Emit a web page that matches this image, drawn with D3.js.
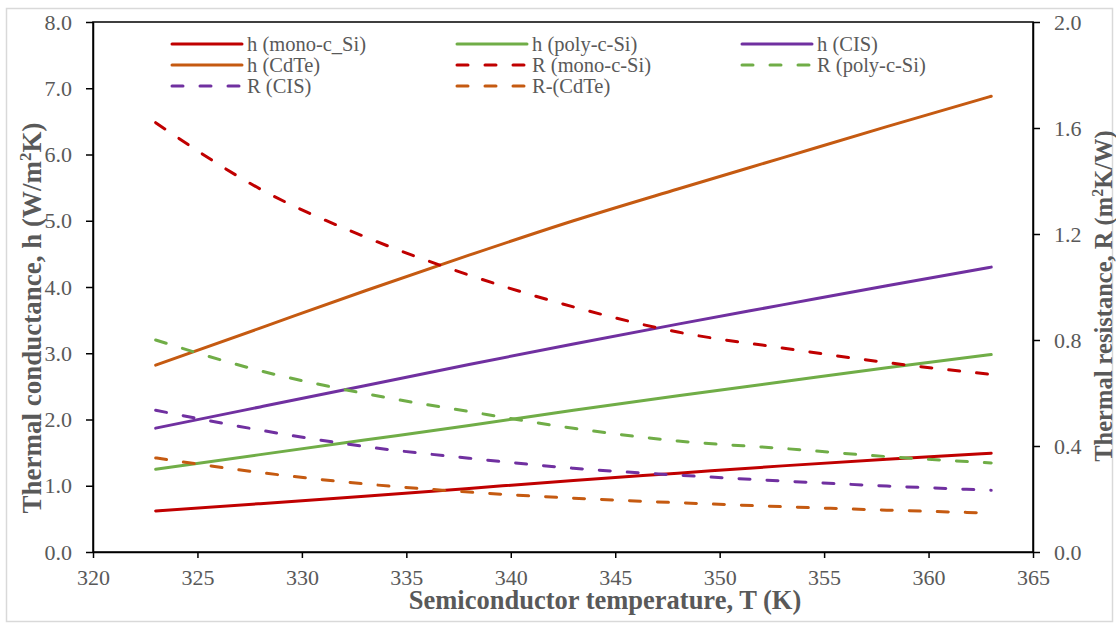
<!DOCTYPE html>
<html>
<head>
<meta charset="utf-8">
<script src="https://cdn.jsdelivr.net/npm/d3@7"></script>
<style>
  body { margin: 0; background: #fff; }
  text { font-family: "Liberation Serif", "Times New Roman", serif; }
</style>
</head>
<body>
<svg id="chart"></svg>
<script>
const width = 1116, height = 624;

// temperatures (K)
const temps = [323, 328, 333, 338, 343, 348, 353, 358, 363];

// thermal conductance h (W/m2K)
const hMono = [0.62, 0.73, 0.84, 0.96, 1.08, 1.19, 1.30, 1.40, 1.49];
const hPoly = [1.25, 1.47, 1.69, 1.91, 2.14, 2.36, 2.57, 2.78, 2.98];
const hCIS  = [1.87, 2.19, 2.51, 2.83, 3.14, 3.44, 3.73, 4.02, 4.30];
const hCdTe = [2.82, 3.38, 3.94, 4.48, 5.00, 5.48, 5.95, 6.42, 6.88];

// thermal resistance R (m2K/W)
const rMono = [1.62, 1.37, 1.19, 1.045, 0.925, 0.83, 0.77, 0.715, 0.67];
const rPoly = [0.80, 0.684, 0.598, 0.53, 0.467, 0.419, 0.391, 0.36, 0.336];
const rCIS  = [0.535, 0.46, 0.398, 0.354, 0.316, 0.29, 0.268, 0.249, 0.233];
const rCdTe = [0.355, 0.30, 0.257, 0.226, 0.203, 0.186, 0.171, 0.158, 0.147];

const xTicks = [320, 325, 330, 335, 340, 345, 350, 355, 360, 365];
const yLeftTicks = [0, 1, 2, 3, 4, 5, 6, 7, 8];
const yRightTicks = [0, 0.4, 0.8, 1.2, 1.6, 2.0];

const series = [
  {name: "h (mono-c_Si)", vals: hMono, axis: "L", color: "#C00000", dash: false},
  {name: "h (poly-c-Si)", vals: hPoly, axis: "L", color: "#70AD47", dash: false},
  {name: "h (CIS)",       vals: hCIS,  axis: "L", color: "#7030A0", dash: false},
  {name: "h (CdTe)",      vals: hCdTe, axis: "L", color: "#C55A11", dash: false},
  {name: "R (mono-c-Si)", vals: rMono, axis: "R", color: "#C00000", dash: true},
  {name: "R (poly-c-Si)", vals: rPoly, axis: "R", color: "#70AD47", dash: true},
  {name: "R (CIS)",       vals: rCIS,  axis: "R", color: "#7030A0", dash: true},
  {name: "R-(CdTe)",      vals: rCdTe, axis: "R", color: "#C55A11", dash: true}
];

const m = {left: 93, right: 1033, top: 22, bottom: 552};

const svg = d3.select("#chart")
  .attr("width", width)
  .attr("height", height);

// outer frame
svg.append("rect")
  .attr("x", 6.5).attr("y", 8.5)
  .attr("width", 1106).attr("height", 613)
  .attr("fill", "#fff")
  .attr("stroke", "#d9d9d9")
  .attr("stroke-width", 1.5);

const x = d3.scaleLinear().domain([320, 365]).range([m.left, m.right]);
const yL = d3.scaleLinear().domain([0, 8]).range([m.bottom, m.top]);
const yR = d3.scaleLinear().domain([0, 2]).range([m.bottom, m.top]);

// plot border
svg.append("rect")
  .attr("x", m.left).attr("y", m.top)
  .attr("width", m.right - m.left).attr("height", m.bottom - m.top)
  .attr("fill", "none")
  .attr("stroke", "#000")
  .attr("stroke-width", 1.5);

function styleAxis(g) {
  g.attr("font-family", null).attr("font-size", null);
  g.select(".domain").attr("stroke", "#000").attr("stroke-width", 1.5);
  g.selectAll(".tick line").attr("stroke", "#000").attr("stroke-width", 1.5);
  g.selectAll(".tick text")
    .attr("fill", "#595959")
    .attr("font-size", "22px")
    .attr("font-family", "Liberation Serif, serif");
}

svg.append("g")
  .attr("transform", `translate(0,${m.bottom})`)
  .call(d3.axisBottom(x).tickValues(xTicks).tickSize(6).tickSizeOuter(0).tickPadding(11).tickFormat(d3.format("d")))
  .call(styleAxis);

svg.append("g")
  .attr("transform", `translate(${m.left},0)`)
  .call(d3.axisLeft(yL).tickValues(yLeftTicks).tickSize(7).tickSizeOuter(0).tickPadding(14).tickFormat(d3.format(".1f")))
  .call(styleAxis);

svg.append("g")
  .attr("transform", `translate(${m.right},0)`)
  .call(d3.axisRight(yR).tickValues(yRightTicks).tickSize(7).tickSizeOuter(0).tickPadding(14).tickFormat(d3.format(".1f")))
  .call(styleAxis);

// lines
series.forEach(function(s) {
  const yS = s.axis === "L" ? yL : yR;
  const line = d3.line()
    .x((d, i) => x(temps[i]))
    .y(d => yS(d))
    .curve(d3.curveMonotoneX);
  svg.append("path")
    .datum(s.vals)
    .attr("d", line)
    .attr("fill", "none")
    .attr("stroke", s.color)
    .attr("stroke-width", 3)
    .attr("stroke-linecap", "round")
    .attr("stroke-dasharray", s.dash ? "11,17" : null);
});

// legend
const legX = [172, 457, 742];
const legY = [44, 65, 86];
series.forEach(function(s, i) {
  const cx = legX[i % 3], cy = legY[Math.floor(i / 3)];
  const g = svg.append("g");
  g.append("line")
    .attr("x1", cx).attr("x2", cx + 70)
    .attr("y1", cy).attr("y2", cy)
    .attr("stroke", s.color)
    .attr("stroke-width", 3)
    .attr("stroke-linecap", "round")
    .attr("stroke-dasharray", s.dash ? "11,17" : null);
  g.append("text")
    .attr("x", cx + 75).attr("y", cy + 6.5)
    .attr("fill", "#595959")
    .style("font-size", "20.5px")
    .text(s.name);
});

// axis titles
svg.append("text")
  .attr("x", 605).attr("y", 609)
  .attr("text-anchor", "middle")
  .attr("fill", "#595959")
  .style("font-size", "26.5px").style("font-weight", "bold")
  .text("Semiconductor temperature, T (K)");

const tl = svg.append("text")
  .attr("transform", "translate(41,318) rotate(-90)")
  .attr("text-anchor", "middle")
  .attr("fill", "#595959")
  .style("font-size", "27px").style("font-weight", "bold");
tl.append("tspan").text("Thermal conductance, h (W/m");
tl.append("tspan").attr("dy", -10).style("font-size", "17px").text("2");
tl.append("tspan").attr("dy", 10).text("K)");

const tr = svg.append("text")
  .attr("transform", "translate(1112,296) rotate(-90)")
  .attr("text-anchor", "middle")
  .attr("fill", "#595959")
  .style("font-size", "24.5px").style("font-weight", "bold");
tr.append("tspan").text("Thermal resistance, R (m");
tr.append("tspan").attr("dy", -9).style("font-size", "16px").text("2");
tr.append("tspan").attr("dy", 9).text("K/W)");
</script>
</body>
</html>
